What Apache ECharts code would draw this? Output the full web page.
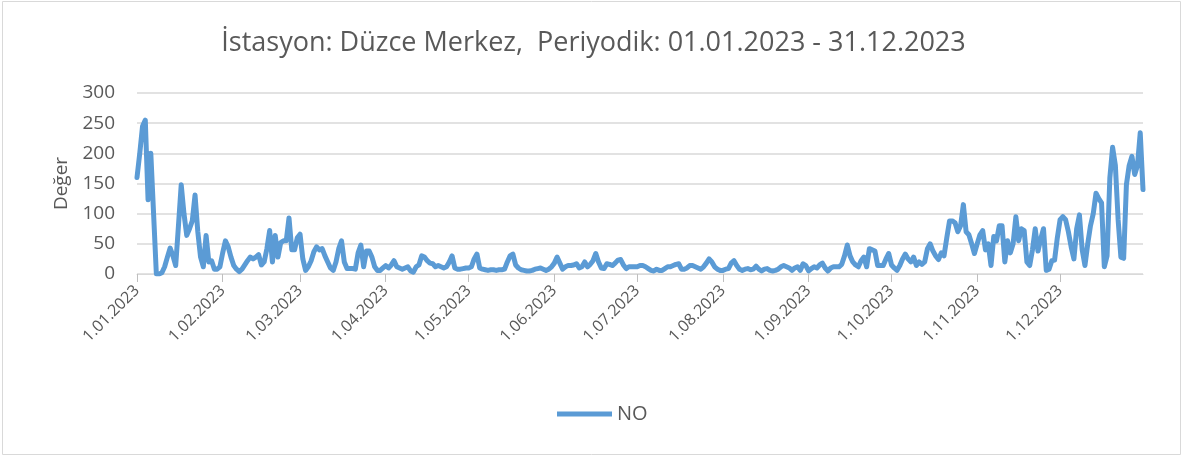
<!DOCTYPE html>
<html>
<head>
<meta charset="utf-8">
<script src="https://cdn.jsdelivr.net/npm/echarts@6/dist/echarts.min.js"></script>
<style>
  html, body { margin: 0; padding: 0; background: #fff; }
  #main { width: 1187px; height: 459px; }
</style>
</head>
<body>
<div id="main"></div>
<script>
// NO daily values
const jan = [160, 200, 245, 255, 123, 200, 100, 0, 0, 2, 12, 28, 43, 30, 14, 80, 148, 100, 64, 75, 88, 131, 70, 28, 12, 64, 20, 22, 8, 8, 12];
const feb = [35, 55, 45, 28, 14, 8, 4, 8, 15, 22, 28, 25, 28, 32, 15, 20, 42, 72, 20, 64, 28, 52, 55, 55, 93, 40, 40, 60];
const mar = [66, 25, 6, 12, 22, 37, 45, 40, 42, 30, 20, 10, 6, 20, 42, 55, 20, 9, 9, 9, 8, 35, 48, 12, 38, 38, 28, 12, 6, 6, 10];
const apr = [14, 10, 15, 22, 12, 10, 8, 10, 12, 5, 3, 12, 15, 30, 28, 22, 18, 17, 12, 14, 12, 10, 12, 20, 30, 10, 8, 8, 9, 10];
const may = [10, 12, 25, 33, 10, 8, 7, 6, 7, 7, 6, 7, 7, 8, 20, 30, 33, 15, 10, 7, 6, 5, 5, 6, 8, 9, 10, 8, 6, 8, 12];
const jun = [18, 28, 18, 8, 12, 14, 14, 15, 17, 10, 12, 20, 12, 16, 22, 34, 20, 10, 9, 17, 16, 14, 18, 23, 24, 15, 9, 12, 12, 12];
const jul = [12, 14, 14, 12, 9, 6, 5, 8, 6, 6, 9, 12, 12, 14, 16, 17, 8, 8, 10, 14, 14, 12, 10, 8, 12, 18, 25, 20, 12, 8, 6];
const aug = [6, 8, 9, 18, 22, 14, 8, 6, 8, 9, 7, 8, 13, 8, 5, 8, 9, 6, 5, 6, 8, 12, 14, 12, 10, 6, 10, 12, 6, 17, 14];
const sep = [5, 9, 12, 10, 15, 18, 10, 5, 10, 12, 12, 12, 16, 30, 48, 30, 20, 15, 12, 22, 28, 12, 42, 40, 38, 14, 14, 14, 25, 34];
const oct = [15, 10, 6, 14, 25, 33, 25, 20, 28, 14, 20, 16, 20, 42, 50, 38, 30, 24, 35, 30, 60, 88, 88, 85, 70, 80, 115, 70, 65, 50, 34];
const nov = [50, 65, 72, 40, 50, 14, 62, 55, 80, 80, 20, 55, 35, 50, 95, 55, 75, 72, 20, 14, 40, 75, 38, 58, 75, 6, 8, 22, 23, 60];
const dec = [90, 95, 90, 70, 45, 25, 75, 98, 40, 14, 50, 80, 100, 134, 125, 118, 12, 30, 159, 210, 180, 90, 28, 26, 148, 180, 195, 165, 180, 234, 140];

const months = [jan, feb, mar, apr, may, jun, jul, aug, sep, oct, nov, dec];
const yTicks = [0, 50, 100, 150, 200, 250, 300];

// tarih etiketleri: 1.01.2023 ... 31.12.2023
const dates = [];
const values = [];
months.forEach(function (arr, m) {
  arr.forEach(function (v, i) {
    dates.push((i + 1) + "." + String(m + 1).padStart(2, "0") + ".2023");
    values.push(v);
  });
});
const isMonthStart = function (idx, val) {
  return val.indexOf("1.") === 0;
};

const grey = "#595959";
const font = "'Open Sans', 'Noto Sans', sans-serif";

const myChart = echarts.init(document.getElementById("main"));
const option = {
  animation: false,
  title: {
    text: "İstasyon: Düzce Merkez,  Periyodik: 01.01.2023 - 31.12.2023",
    left: "center",
    top: 25,
    textStyle: {
      color: grey,
      fontSize: 27,
      fontWeight: "normal",
      fontFamily: font,
    },
  },
  legend: {
    bottom: 30,
    left: 552,
    itemWidth: 55,
    itemHeight: 14,
    itemGap: 4,
    icon: "path://M0,5.5 L55,5.5 L55,10.5 L0,10.5 Z",
    textStyle: { color: grey, fontSize: 20, fontFamily: font, padding: [0, 0, 0, 0] },
    data: ["NO"],
  },
  grid: {
    left: 137,
    right: 44,
    top: 93,
    bottom: 185,
  },
  xAxis: {
    type: "category",
    data: dates,
    boundaryGap: false,
    axisLine: { lineStyle: { color: "#d9d9d9", width: 1 } },
    axisTick: {
      show: true,
      interval: isMonthStart,
      length: 8,
      lineStyle: { color: "#bfbfbf" },
    },
    axisLabel: {
      interval: isMonthStart,
      rotate: 45,
      color: grey,
      fontSize: 16,
      fontFamily: font,
      margin: 14,
    },
  },
  yAxis: {
    type: "value",
    min: yTicks[0],
    max: yTicks[yTicks.length - 1],
    interval: 50,
    name: "Değer",
    nameLocation: "middle",
    nameGap: 62,
    nameTextStyle: { color: grey, fontSize: 19, fontFamily: font },
    axisLine: { show: false },
    axisTick: { show: false },
    axisLabel: { color: grey, fontSize: 19, fontFamily: font, margin: 22 },
    splitLine: { lineStyle: { color: "#d9d9d9", width: 1.5 } },
  },
  graphic: [
    {
      type: "rect",
      shape: { x: 2.5, y: 1.5, width: 1178, height: 453 },
      style: { fill: "none", stroke: "#d9d9d9", lineWidth: 1 },
      silent: true,
    },
  ],
  series: [
    {
      name: "NO",
      type: "line",
      data: values,
      symbol: "none",
      lineStyle: { color: "#5b9bd5", width: 5, join: "round", cap: "round" },
      itemStyle: { color: "#5b9bd5" },
    },
  ],
};
myChart.setOption(option);
</script>
</body>
</html>
